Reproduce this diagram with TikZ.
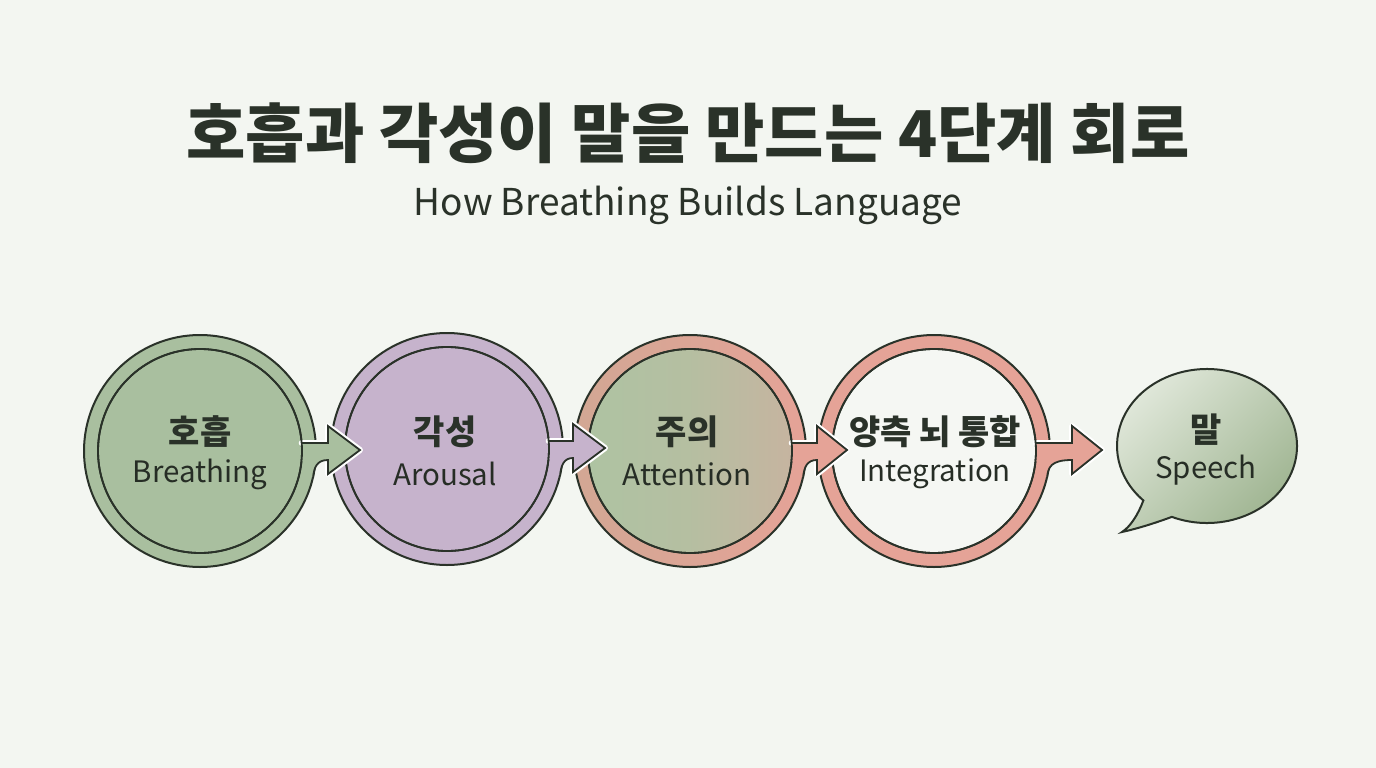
\documentclass[tikz,border=0pt]{standalone}
\usepackage{fontspec}
\setmainfont{Noto Sans CJK KR}
\usetikzlibrary{calc}
\definecolor{bg}{HTML}{F3F6F1}
\definecolor{ink}{HTML}{2A3229}
\definecolor{ringgreen}{HTML}{A9BF9F}
\definecolor{ringpurple}{HTML}{C6B3CC}
\definecolor{ringsalmon}{HTML}{E5A397}
\definecolor{ringtan}{HTML}{D2A794}
\definecolor{innergreen}{HTML}{AEC3A2}
\definecolor{innertan}{HTML}{C6B4A0}
\definecolor{innerlight}{HTML}{F5F7F3}
\definecolor{bubblelight}{HTML}{E2E9DC}
\definecolor{bubbledark}{HTML}{9DB38F}
\tikzset{
  outerring/.style={circle, draw=ink, line width=2pt, minimum size=232pt, inner sep=0pt},
  innerdisk/.style={circle, draw=ink, line width=1.8pt, minimum size=204pt, inner sep=0pt},
  korlabel/.style={font=\fontsize{34}{38}\selectfont\bfseries, text=ink, inner sep=0pt},
  englabel/.style={font=\fontsize{29.5}{33}\selectfont, text=ink!90!black, inner sep=0pt},
  halo/.style={white, line width=6pt, line join=round, line cap=round},
  arrowline/.style={draw=ink, line width=1.8pt, line join=miter},
}
% #1 circle name, #2 fill colour, #3 head base offset, #4 tip offset
\newcommand\stagearrow[4]{%
  \draw[halo] ([shift={(101.7,-8)}]#1.center) -- ([shift={(#3,-8)}]#1.center) -- ([shift={(#3,-25)}]#1.center) -- ([shift={(#4,-1)}]#1.center) -- ([shift={(#3,23)}]#1.center) -- ([shift={(#3,9)}]#1.center);
  \fill[#2] ([shift={(101.7,-8)}]#1.center) -- ([shift={(#3,-8)}]#1.center) -- ([shift={(#3,-25)}]#1.center) -- ([shift={(#4,-1)}]#1.center) -- ([shift={(#3,23)}]#1.center) -- ([shift={(#3,9)}]#1.center) .. controls ([shift={(117,9)}]#1.center) and ([shift={(114,16)}]#1.center) .. ([shift={(113,27)}]#1.center) -- ([shift={(101.7,9)}]#1.center) -- cycle;
  \draw[arrowline] ([shift={(101.7,-8)}]#1.center) -- ([shift={(#3,-8)}]#1.center) -- ([shift={(#3,-25)}]#1.center) -- ([shift={(#4,-1)}]#1.center) -- ([shift={(#3,23)}]#1.center) -- ([shift={(#3,9)}]#1.center) .. controls ([shift={(117,9)}]#1.center) and ([shift={(114,16)}]#1.center) .. ([shift={(113,27)}]#1.center);
}
\begin{document}
\begin{tikzpicture}[x=1pt, y=-1pt]
\useasboundingbox[fill=bg] (0,0) rectangle (1376,768);

% title
\node[font=\fontsize{64.5}{70}\selectfont\bfseries, text=ink, inner sep=0pt] (title) at (688,133) {호흡과 각성이 말을 만드는 4단계 회로};
\node[font=\fontsize{37}{42}\selectfont, text=ink, inner sep=0pt] (subtitle) at (688,205) {How Breathing Builds Language};

% outer rings
\node[outerring, fill=ringgreen] (o1) at (200,451) {};
\node[outerring, fill=ringpurple] (o2) at (447,449) {};
\node[outerring, left color=ringtan, right color=ringsalmon] (o3) at (690,451) {};
\node[outerring, fill=ringsalmon] (o4) at (934,451) {};

% inner disks
\node[innerdisk, fill=ringgreen] (i1) at (o1) {};
\node[innerdisk, fill=ringpurple] (i2) at (o2) {};
\node[innerdisk, left color=innergreen, right color=innertan, middle color=innergreen!70!innertan] (i3) at (o3) {};
\node[innerdisk, fill=innerlight] (i4) at (o4) {};

% arrows, drawn from the last to the first
\stagearrow{o4}{ringsalmon}{138}{168}
\draw[ink, line width=1.8pt] (i4) circle[radius=102pt];
\stagearrow{o3}{ringsalmon}{127}{157}
\draw[ink, line width=1.8pt] (i3) circle[radius=102pt];
\stagearrow{o2}{ringpurple}{126}{158}
\draw[ink, line width=1.8pt] (i2) circle[radius=102pt];
\stagearrow{o1}{ringgreen}{128}{160}
\draw[ink, line width=1.8pt] (i1) circle[radius=102pt];

% speech bubble
\coordinate (bc) at (1207,446);
\shade[left color=bubblelight, right color=bubbledark, shading angle=45, draw=ink, line width=2pt]
  ($(bc)+({90*cos(135)},{77*sin(135)})$) .. controls (1138,515) and (1130,527) .. (1122,532)
  .. controls (1140,528) and (1158,522) .. ($(bc)+({90*cos(113)},{77*sin(113)})$)
  arc[start angle=113, end angle=-225, x radius=90, y radius=77] -- cycle;
\node[draw=none, inner sep=0pt, minimum width=180pt, minimum height=154pt] (bubble) at (bc) {};

% labels
\node[korlabel] (k1) at (200,432) {호흡};
\node[englabel] (e1) at (200,474) {Breathing};
\node[korlabel] (k2) at (445,432) {각성};
\node[englabel] (e2) at (445,474) {Arousal};
\node[korlabel] (k3) at (687,432) {주의};
\node[englabel] (e3) at (687,474) {Attention};
\node[korlabel] (k4) at (935,432) {양측 뇌 통합};
\node[englabel] (e4) at (935,474) {Integration};
\node[korlabel] (k5) at (1206,430) {말};
\node[englabel] (e5) at (1206,470) {Speech};
\end{tikzpicture}
\end{document}
